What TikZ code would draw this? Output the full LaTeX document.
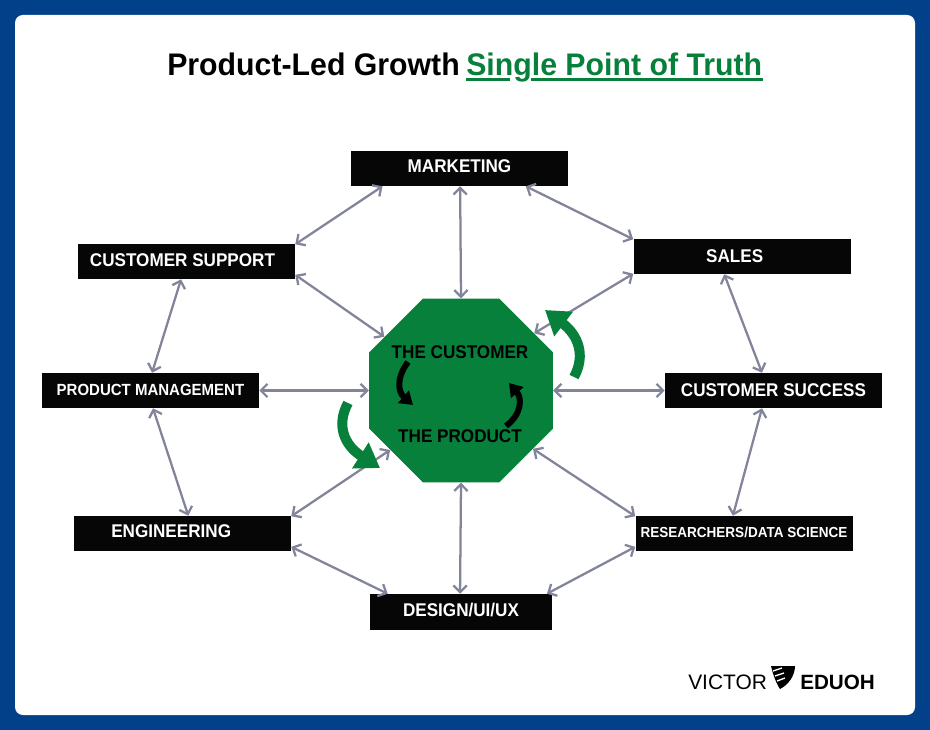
\documentclass[tikz,border=0pt]{standalone}
\usepackage{fontspec}
\setmainfont{Liberation Sans}
\newfontfamily\narrowfont[FakeStretch=0.93]{Liberation Sans}
\newfontfamily\titlefont[FakeStretch=0.97]{Liberation Sans}
\usetikzlibrary{arrows.meta,shapes.geometric}
\definecolor{framebl}{HTML}{02418A}
\definecolor{hubgreen}{HTML}{06803A}
\definecolor{linkgray}{HTML}{82859A}
\definecolor{boxblack}{HTML}{060606}

\begin{document}
\begin{tikzpicture}[
  x=0.75pt, y=-0.75pt,
  dept/.style={fill=boxblack, text=white, font=\narrowfont\bfseries\fontsize{13.8}{16}\selectfont, minimum width=162.75pt, minimum height=26.25pt, inner sep=0pt, text height=9pt, text depth=3pt},
  link/.style={draw=linkgray, line width=1.7pt, {Straight Barb[length=5pt,width=10pt]}-{Straight Barb[length=5pt,width=10pt]}},
  hubtext/.style={text=black, font=\narrowfont\bfseries\fontsize{13.8}{16}\selectfont},
  titletext/.style={anchor=base west, inner sep=0pt, font=\titlefont\bfseries\fontsize{23.4}{28}\selectfont},
  loopbig/.style={draw=hubgreen, line width=7.5pt, -{Triangle[length=17.5pt,width=22pt]}},
  loopsmall/.style={draw=black, line width=4.5pt, -{Triangle[length=9.5pt,width=12pt]}}
]

% Frame
\fill[framebl] (0,0) rectangle (930,730);
\fill[white, rounded corners=6pt] (15,15) rectangle (915,715);

% Title
\node[titletext] (titlea) at (167,76) {Product-Led Growth};
\node[titletext, text=hubgreen] (titleb) at (466,76) {Single Point of Truth};
\fill[hubgreen] (466,78.5) rectangle (510,81);
\fill[hubgreen] (531,78.5) rectangle (763,81);

% Hub
\node[regular polygon, regular polygon sides=8, fill=hubgreen, minimum size=149.25pt, inner sep=0pt] (hub) at (461,390.5) {};
\node[hubtext] (hubcustomer) at (460,352) {THE CUSTOMER};
\node[hubtext] (hubproduct) at (460,436) {THE PRODUCT};

% Departments
\node[dept] (marketing) at (459.5,168.5) {MARKETING};
\node[dept, text depth=1.5pt] (support) at (186.5,261.5) {CUSTOMER SUPPORT\hspace*{6pt}};
\node[dept, text depth=0pt] (sales) at (742,256.5) {SALES\hspace*{11pt}};
\node[dept, text depth=1.5pt, font=\narrowfont\bfseries\fontsize{12.1}{14}\selectfont] (management) at (150.5,390.5) {PRODUCT MANAGEMENT};
\node[dept, text depth=0pt] (success) at (773.5,390.5) {CUSTOMER SUCCESS};
\node[dept] (engineering) at (182.5,533.5) {ENGINEERING\hspace*{17pt}};
\node[dept, font=\narrowfont\bfseries\fontsize{10.9}{13}\selectfont] (researchers) at (744,533.5) {RESEARCHERS/DATA SCIENCE};
\node[dept, minimum width=136.5pt, minimum height=27pt] (design) at (461,612) {DESIGN/UI/UX};

% Links
\draw[link] (marketing.-88.4) -- (hub.90.6);
\draw[link] (marketing.-167.3) -- (support.9.6);
\draw[link] (marketing.-15.2) -- (sales.171.2);
\draw[link] (support.-7.1) -- (hub.145.2);
\draw[link] (sales.-171.9) -- (hub.38.3);
\draw[link] (management.0) -- (hub.180);
\draw[link] (success.180) -- (hub.0);
\draw[link] (support.-107.4) -- (management.85);
\draw[link] (sales.-135.8) -- (success.123.3);
\draw[link] (success.-123.3) -- (researchers.122.2);
\draw[link] (management.-82) -- (engineering.72.6);
\draw[link] (engineering.9) -- (hub.-140);
\draw[link] (researchers.171.9) -- (hub.-39.6);
\draw[link] (engineering.-7.1) -- (design.166.7);
\draw[link] (researchers.187.2) -- (design.12.8);
\draw[link] (design.93) -- (hub.-90.6);

% Loops
\draw[loopbig] (574,377) .. controls (586,355) and (578,335) .. (545,310);
\draw[loopbig] (348,403) .. controls (336,425) and (344,445) .. (380,468);
\draw[loopsmall] (408,362) .. controls (396,378) and (398,392) .. (413,405);
\draw[loopsmall] (506,426) .. controls (522,414) and (522,398) .. (509,383);

% Logo
\node[anchor=base west, inner sep=0pt, font=\fontsize{15.7}{18}\selectfont] (logoa) at (688,689) {VICTOR};
\node[anchor=base west, inner sep=0pt, font=\bfseries\fontsize{15.5}{18}\selectfont] (logob) at (800,689) {EDUOH};
\fill[black] (771,666) -- (795,666) .. controls (795,676) and (788,685) .. (780,689) .. controls (777,685) and (773,675) .. (771,666) -- cycle;
\draw[white, line width=1pt] (773,671) -- (782,668) (775,676) -- (784,673) (777,681) -- (785,678);

\end{tikzpicture}
\end{document}
